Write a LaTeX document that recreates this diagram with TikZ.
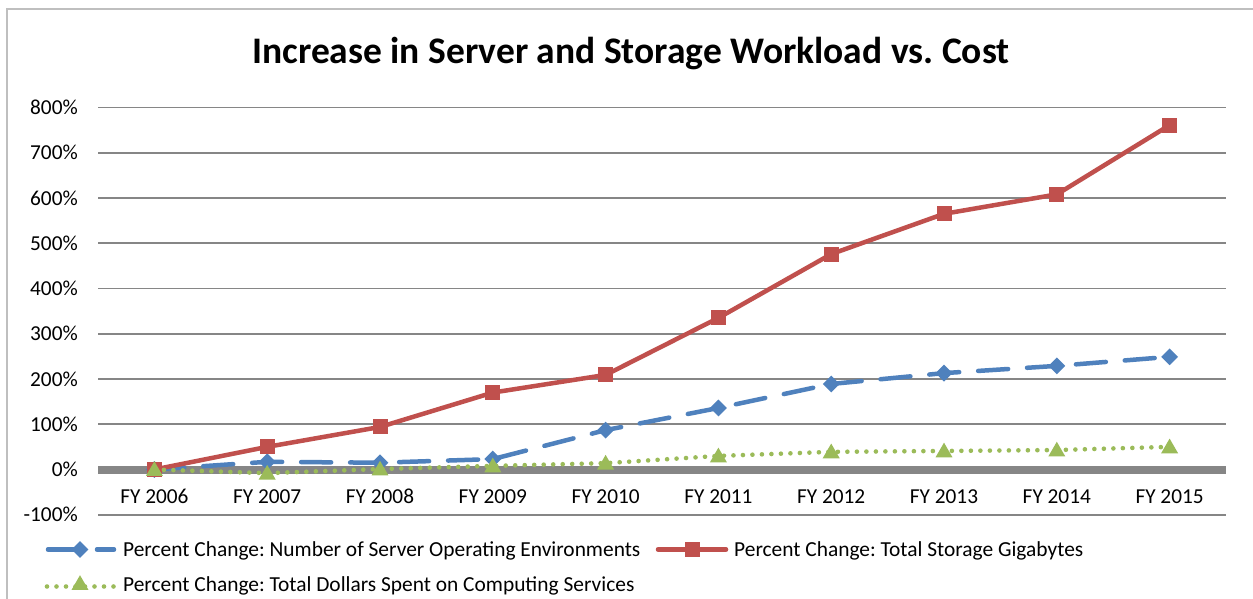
\documentclass[tikz,border=0pt]{standalone}
\usepackage{fontspec}
\setmainfont{Carlito}
\usetikzlibrary{shapes.geometric}

\definecolor{serblue}{HTML}{4F81BD}
\definecolor{serred}{HTML}{C0504D}
\definecolor{sergreen}{HTML}{9BBB59}
\definecolor{gridgray}{HTML}{868686}
\definecolor{framegray}{HTML}{BFBFBF}

\tikzset{
  chartframe/.style={draw=framegray, line width=2pt},
  gridline/.style={draw=gridgray, line width=1.6pt},
  zeroaxis/.style={draw=gridgray, line width=8pt},
  ticklabel/.style={font=\fontsize{21.3}{25}\selectfont, inner sep=0pt},
  legendtext/.style={font=\fontsize{21.4}{25}\selectfont, inner sep=0pt, anchor=base west},
  blueser/.style={draw=serblue, line width=4.5pt, line cap=round, dash pattern=on 30pt off 19pt},
  redser/.style={draw=serred, line width=4.5pt, line cap=round, line join=round},
  greenser/.style={draw=sergreen, line width=4.6pt, line cap=round, dash pattern=on 0pt off 9.5pt},
  bluemark/.style={shape=diamond, fill=serblue, minimum width=17pt, minimum height=17pt, inner sep=0pt},
  redmark/.style={shape=rectangle, fill=serred, minimum size=15pt, inner sep=0pt},
  greenmark/.style={shape=regular polygon, regular polygon sides=3, fill=sergreen, minimum size=19.6pt, inner sep=0pt},
}

\begin{document}
\frenchspacing
\begin{tikzpicture}[x=1pt, y=-1pt]
  \clip (0,0) rectangle (1253,599);
  \fill[white] (0,0) rectangle (1253,599);
  \draw[chartframe] (7,9) rectangle (1280,640);

  % title
  \node[anchor=base, inner sep=0pt, font=\fontsize{37.5}{42}\selectfont\bfseries] (title) at (631,63.3)
    {Increase in Server and Storage Workload vs. Cost};

  % horizontal gridlines and value labels
  \foreach \v in {-100,0,100,200,300,400,500,600,700,800} {
    \coordinate (gl\v) at (98,{469.5-0.4525*\v});
    \coordinate (gr\v) at (1226,{469.5-0.4525*\v});
    \draw[gridline] (gl\v) -- (gr\v);
    \node[ticklabel, anchor=base east] (lab\v) at (78,{469.5-0.4525*\v+7.2}) {\v\%};
  }
  \draw[zeroaxis] (gl0) -- (gr0);

  % category labels
  \foreach \y [count=\i from 0] in {2006,2007,2008,2009,2010,2011,2012,2013,2014,2015} {
    \node[ticklabel, anchor=base] (fy\y) at ({154.4+112.8*\i},503) {FY \y};
  }

  % data points
  \foreach \v [count=\i from 0] in {0,17,15,23,87,136,189,213,229,249}
    \coordinate (b\i) at ({154.4+112.8*\i},{469.5-0.4525*\v});
  \foreach \v [count=\i from 0] in {0,50,94,170,209,335,476,565,608,761}
    \coordinate (r\i) at ({154.4+112.8*\i},{469.5-0.4525*\v});
  \foreach \v [count=\i from 0] in {0,-8,1,8,14,30,39,41,43,50}
    \coordinate (g\i) at ({154.4+112.8*\i},{469.5-0.4525*\v});

  % servers
  \draw[blueser] (b0) -- (b1) -- (b2) -- (b3) -- (b4) -- (b5) -- (b6) -- (b7) -- (b8) -- (b9);
  \foreach \i in {0,...,9} \node[bluemark] (bm\i) at (b\i) {};

  % storage
  \draw[redser] (r0) -- (r1) -- (r2) -- (r3) -- (r4) -- (r5) -- (r6) -- (r7) -- (r8) -- (r9);
  \foreach \i in {0,...,9} \node[redmark] (rm\i) at (r\i) {};

  % dollars
  \draw[greenser] (g0) -- (g1) -- (g2) -- (g3) -- (g4) -- (g5) -- (g6) -- (g7) -- (g8) -- (g9);
  \foreach \i in {0,...,9} \node[greenmark] (gm\i) at ([yshift=-1.5pt]g\i) {};

  % legend
  \coordinate (lb1) at (48,549.5);  \coordinate (lb2) at (114,549.5);
  \draw[blueser] (lb1) -- (lb2);
  \node[bluemark] (lbm) at (80,549.5) {};
  \node[legendtext] (lbt) at (123,556.5) {Percent Change: Number of Server Operating Environments};

  \coordinate (lr1) at (658,549.5); \coordinate (lr2) at (726,549.5);
  \draw[redser] (lr1) -- (lr2);
  \node[redmark] (lrm) at (692,549.5) {};
  \node[legendtext] (lrt) at (734,556.5) {Percent Change: Total Storage Gigabytes};

  \coordinate (lg1) at (47,586.5); \coordinate (lg2) at (115,586.5);
  \draw[greenser] (lg1) -- (lg2);
  \node[greenmark] (lgm) at (80,585) {};
  \node[legendtext] (lgt) at (123,591.5) {Percent Change: Total Dollars Spent on Computing Services};
\end{tikzpicture}
\end{document}
